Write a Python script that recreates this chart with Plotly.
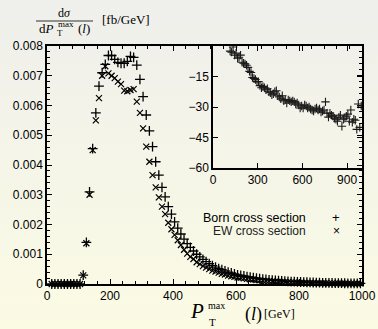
import plotly.graph_objects as go
import base64

# ---------------- data ----------------
bin_x = [15 + 10 * i for i in range(99)]  # bin centres 15..995 GeV

born = [0, 0, 0, 0, 0, 0, 0, 0, 0, 0,
        0.00030, 0.00140, 0.00310, 0.00455, 0.00575, 0.00665, 0.00710, 0.00738, 0.00768, 0.00768,
        0.00755, 0.00745, 0.00742, 0.00742, 0.00748, 0.00765, 0.00762, 0.00736, 0.00688, 0.00630,
        0.00568, 0.00515, 0.00462, 0.00411, 0.00366, 0.00325, 0.00293, 0.00260, 0.00235, 0.00209,
        0.00188, 0.00168, 0.00151, 0.00136, 0.00123, 0.00111, 0.00100, 0.00091, 0.00083, 0.00075,
        0.00068, 0.00062, 0.00057, 0.00052, 0.00048, 0.00044, 0.00040, 0.00037, 0.00034, 0.00031,
        0.00029, 0.00027, 0.00025, 0.00023, 0.00021, 0.000195, 0.00018, 0.000165, 0.000153, 0.000142,
        0.000131, 0.000121, 0.000112, 0.000104, 0.000097, 0.00009, 0.000083, 0.000077, 0.000072, 0.000067,
        0.000062, 0.000058, 0.000054, 0.00005, 0.000047, 0.000044, 0.000041, 0.000038, 0.000035, 0.000033,
        0.000031, 0.000029, 0.000027, 0.000025, 0.000023, 0.000022, 0.00002, 0.000019, 0.000018]

ew = [0, 0, 0, 0, 0, 0, 0, 0, 0, 0,
      0.00029, 0.00137, 0.00300, 0.00450, 0.00550, 0.00625, 0.00700, 0.00732, 0.00708, 0.00700,
      0.00692, 0.00680, 0.00672, 0.00650, 0.00648, 0.00652, 0.00655, 0.00613, 0.00575, 0.00523,
      0.00462, 0.00411, 0.00366, 0.00325, 0.00291, 0.00260, 0.00235, 0.00206, 0.00184, 0.00165,
      0.00147, 0.00131, 0.00115, 0.00102, 0.00091, 0.00084, 0.00073, 0.00067, 0.00060, 0.00055,
      0.00050, 0.00045, 0.00042, 0.00038, 0.00034, 0.00032, 0.00028, 0.00026, 0.00024, 0.00022,
      0.00021, 0.00019, 0.00017, 0.00016, 0.00015, 0.00013, 0.00012, 0.00011, 0.000106, 0.000097,
      0.00009, 0.000082, 0.000076, 0.000071, 0.00007, 0.00006, 0.000054, 0.000052, 0.000048, 0.000044,
      0.00004, 0.000037, 0.000034, 0.000033, 0.000031, 0.000027, 0.000026, 0.000024, 0.000023, 0.000022,
      0.00002, 0.00002, 0.000017, 0.000016, 0.000015, 0.000013, 0.000014, 0.000011, 0.000013]

inset_x = [115 + 10 * i for i in range(89)]
inset_pct = [-2.5, -3.0, -0.5, -4.5, -3.5, -6.0, -5.5, -4.5, -8.0, -8.5,
             -8.8, -9.5, -10.5, -12.5, -13.0, -15.5, -16.0, -16.5, -17.5, -17.5,
             -19.5, -20.5, -20.0, -20.5, -21.5, -21.0, -22.5, -23.0, -24.0, -23.5,
             -22.5, -22.0, -24.5, -25.0, -26.0, -24.5, -27.0, -26.5, -28.0, -26.5,
             -27.0, -27.5, -27.0, -27.5, -28.5, -28.0, -29.0, -30.5, -29.5, -30.5,
             -29.0, -29.5, -30.5, -30.0, -31.0, -31.5, -32.0, -31.0, -30.5, -31.5,
             -31.0, -32.5, -32.0, -31.5, -27.5, -33.0, -35.0, -33.0, -34.0, -34.5,
             -35.5, -36.0, -37.0, -35.0, -34.0, -39.5, -36.0, -35.5, -34.5, -33.5,
             -37.0, -31.5, -37.5, -36.0, -36.5, -41.0, -28.5, -40.0, -29.5]

main_yticks = [0, 0.001, 0.002, 0.003, 0.004, 0.005, 0.006, 0.007, 0.008]
main_ytext = ["0", "0.001", "0.002", "0.003", "0.004", "0.005", "0.006", "0.007", "0.008"]
main_xticks = [0, 200, 400, 600, 800, 1000]
inset_xticks = [0, 300, 600, 900]
inset_yticks = [-60, -45, -30, -15]

# ---------------- layout geometry (pixels) ----------------
W, H = 378, 329
L, R, T, B = 47, 362, 46, 284
PW, PH = R - L, B - T


def px(x):
    return (x - L) / PW


def py(y):
    return (B - y) / PH


fig = go.Figure()

fig.add_trace(go.Scatter(x=bin_x, y=born, mode="markers", name="Born cross section",
                         marker=dict(symbol="cross-thin", size=7, line=dict(width=1.3, color="black")),
                         xaxis="x", yaxis="y", showlegend=False, cliponaxis=False))
fig.add_trace(go.Scatter(x=bin_x, y=ew, mode="markers", name="EW cross section",
                         marker=dict(symbol="x-thin", size=6, line=dict(width=1.2, color="black")),
                         xaxis="x", yaxis="y", showlegend=False, cliponaxis=False))
fig.add_trace(go.Scatter(x=inset_x, y=inset_pct, mode="markers",
                         marker=dict(symbol="cross-thin", size=6, line=dict(width=1.1, color="#1a1a1a")),
                         xaxis="x2", yaxis="y2", showlegend=False))

tickfont = dict(family="Liberation Sans, Arial, sans-serif", size=12, color="black")
common = dict(showgrid=False, zeroline=False, automargin=False, showline=True, linecolor="black",
              linewidth=1.5, mirror="ticks", ticks="inside", ticklen=5, tickwidth=1,
              tickcolor="black", tickfont=tickfont)

fig.update_layout(
    width=W, height=H,
    margin=dict(l=L, r=W - R, t=T, b=H - B, autoexpand=False),
    paper_bgcolor="#f5f5ea",
    plot_bgcolor="rgba(0,0,0,0)",
    xaxis=dict(domain=[0, 1], range=[0, 1000], tickvals=main_xticks, **common,
               minor=dict(dtick=40, ticks="inside", ticklen=3, tickcolor="black", showgrid=False)),
    yaxis=dict(domain=[0, 1], range=[0, 0.008], tickvals=main_yticks, ticktext=main_ytext, **common,
               minor=dict(dtick=0.0002, ticks="inside", ticklen=3, tickcolor="black", showgrid=False)),
    xaxis2=dict(domain=[px(213), 1], range=[0, 1000], tickvals=inset_xticks, anchor="y2", **common),
    yaxis2=dict(domain=[py(168), 1], range=[-60, 0], tickvals=inset_yticks, anchor="x2", **common),
)

# background gradient (grey-white at top to pale yellow at bottom)
svg = ('<svg xmlns="http://www.w3.org/2000/svg" width="378" height="329" preserveAspectRatio="none">'
       '<defs><linearGradient id="g" x1="0" y1="0" x2="0" y2="1">'
       '<stop offset="0" stop-color="#efefec"/><stop offset="1" stop-color="#fbfbe4"/>'
       '</linearGradient></defs><rect width="378" height="329" fill="url(#g)"/></svg>')
src = "data:image/svg+xml;base64," + base64.b64encode(svg.encode()).decode()
fig.add_layout_image(dict(source=src, xref="paper", yref="paper", x=px(0), y=py(0),
                          sizex=W / PW, sizey=H / PH, sizing="stretch", layer="below",
                          xanchor="left", yanchor="top"))

serif = "Liberation Serif, DejaVu Serif, serif"
sans = "Liberation Sans, Arial, sans-serif"


def ann(text, x, y, size, family=serif, xanchor="center", color="black", pad=1):
    fig.add_annotation(text=text, x=px(x), y=py(y), xref="paper", yref="paper",
                       showarrow=False, xanchor=xanchor, yanchor="middle", borderpad=pad,
                       font=dict(family=family, size=size, color=color))


# y-axis title: d sigma / d P_T^max(l) [fb/GeV]
ann("d<i>σ</i>", 64, 13, 12)
fig.add_shape(type="line", xref="paper", yref="paper", x0=px(36), x1=px(93), y0=py(21), y1=py(21),
              line=dict(color="black", width=0.8))
ann("d<i>P</i>", 46, 28, 13)
ann("max", 66, 24, 9)
ann("T", 60, 33, 9)
ann("(<i>l</i>)", 84, 28, 13)
ann("[fb/GeV]", 126, 20, 13)

# x-axis title: P_T^max(l) [GeV]
ann("<i>P</i>", 197, 311, 21, pad=0)
ann("max", 216, 305, 10, pad=0)
ann("T", 212, 322, 11, pad=0)
ann("(<i>l</i>)", 253, 314, 18, pad=0)
ann("[GeV]", 279, 314, 12, pad=0)

# legend
ann("Born cross section", 308, 218, 12.5, family=sans, xanchor="right")
ann("EW cross section", 308, 231, 12, family=sans, xanchor="right", color="#222")
ann("+", 336, 217, 13, family=sans)
ann("×", 336, 231, 12, family=sans)

fig.write_html("out.html")
